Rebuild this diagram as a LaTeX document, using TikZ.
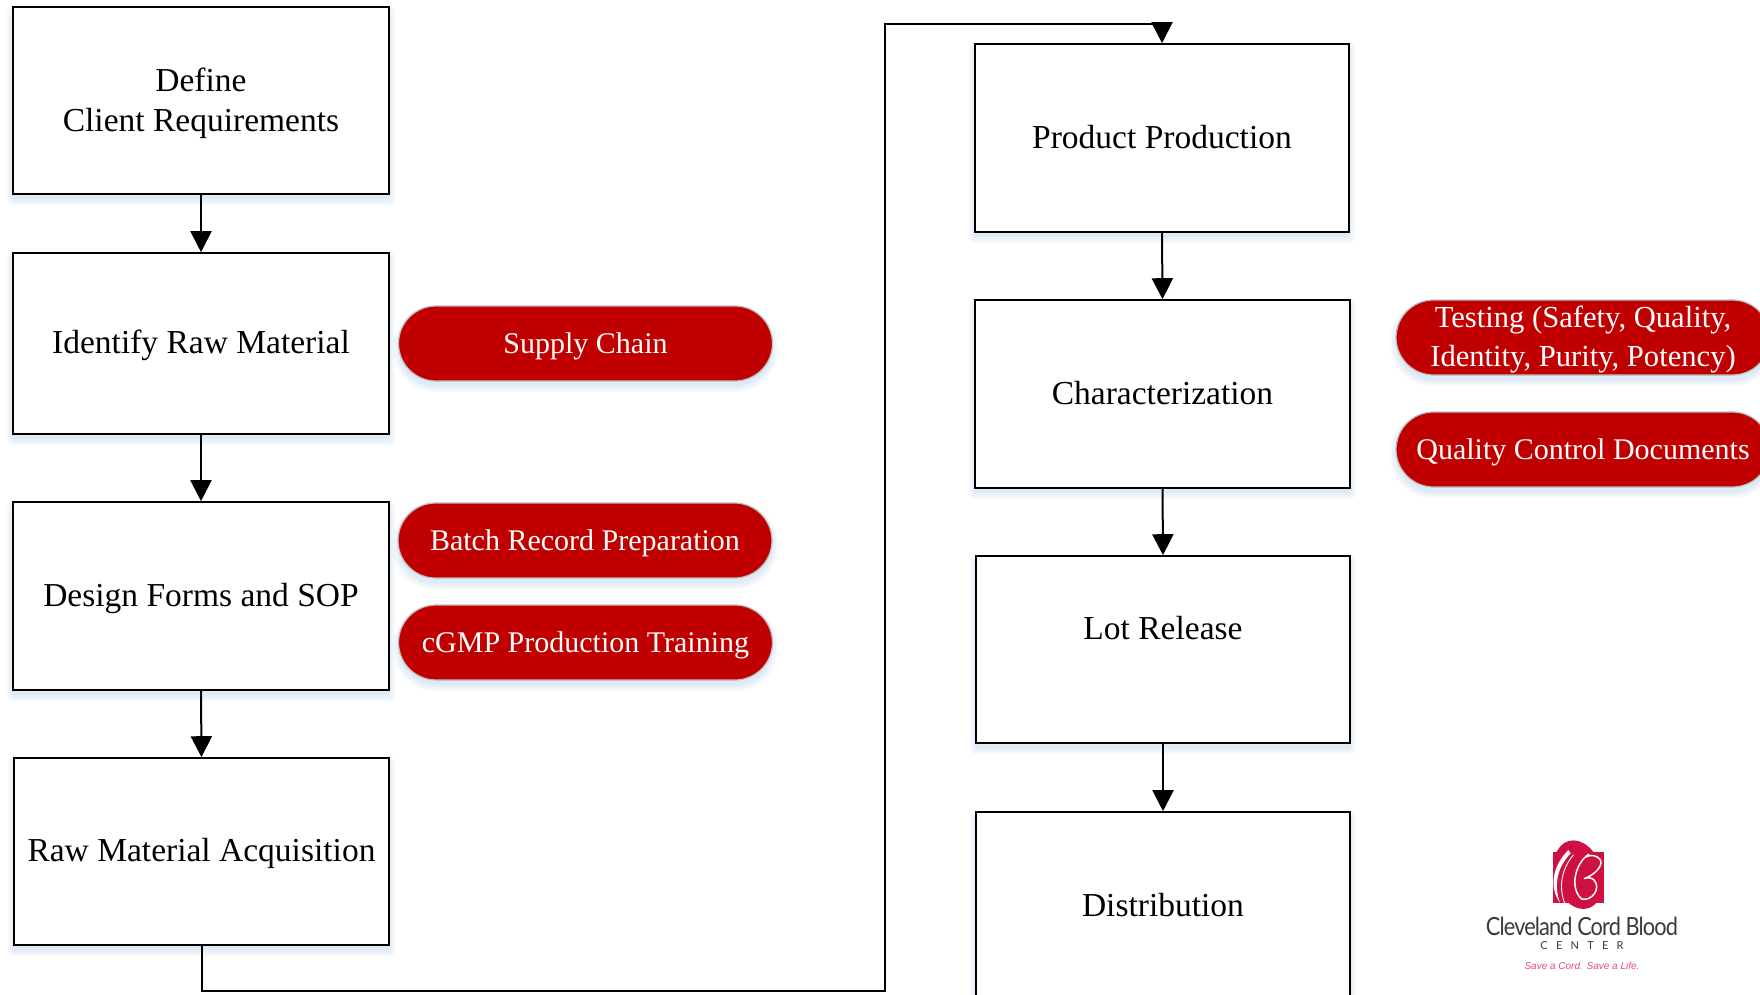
\documentclass[tikz,border=0pt]{standalone}
\usepackage{fontspec}
\setmainfont{Liberation Serif}
\newfontfamily\logofont{Lato}
\newfontfamily\tagfont{Liberation Sans}
\usetikzlibrary{arrows.meta,shapes.misc}
\definecolor{pillred}{HTML}{C00000}
\definecolor{logored}{HTML}{CE1141}
\definecolor{tagpink}{HTML}{E4506F}
\definecolor{logogrey}{HTML}{3A3A3A}
\definecolor{shadowblue}{HTML}{5B9BD5}
\newcommand{\softrect}[5]{%
  \foreach \g in {6,4,2,0}{%
    \fill[shadowblue,opacity=0.05,rounded corners=#5+\g] (#1-\g,#2+5-\g) rectangle (#3+\g,#4+5+\g);
  }%
}
\newcommand{\stack}[2]{\raisebox{-#1}[\dimexpr\height-4pt\relax][\dimexpr\depth-4pt\relax]{\begin{tabular}{@{}c@{}}#2\end{tabular}}}
\tikzset{
  stepbox/.style={draw=black,line width=1.6pt,fill=white,minimum width=#1,inner sep=0pt,
    font=\fontsize{33.5}{40}\selectfont},
  oneline/.style={text height=30pt,text depth=10pt},
  pill/.style={rounded rectangle,draw=black!25,line width=1.2pt,fill=pillred,text=white,
    minimum width=374pt,minimum height=75pt,inner sep=0pt,
    font=\fontsize{30}{38.5}\selectfont},
  pillline/.style={text height=27pt,text depth=8pt},
  flow/.style={draw=black,line width=2pt,-{Triangle[length=21pt,width=21pt]}}
}
\begin{document}
\begin{tikzpicture}[x=1pt,y=-1pt]
\useasboundingbox (0,0) rectangle (1760,995);
\fill[white] (0,0) rectangle (1760,995);
% soft shadows
\softrect{13}{7}{389}{194}{0}
\softrect{13}{253}{389}{434}{0}
\softrect{13}{502}{389}{690}{0}
\softrect{14}{758}{389}{945}{0}
\softrect{975}{44}{1349}{232}{0}
\softrect{975}{300}{1350}{488}{0}
\softrect{976}{556}{1350}{743}{0}
\softrect{976}{812}{1350}{1000}{0}
\softrect{399}{306}{772}{381}{37}
\softrect{398}{503}{772}{578}{37}
\softrect{399}{605}{772}{680}{37}
\softrect{1396}{300}{1770}{375}{37}
\softrect{1396}{412}{1770}{487}{37}
% left column
\node[stepbox=376pt,minimum height=187pt] (define) at (201,100.5) {\stack{3.2pt}{Define\\Client Requirements}};
\node[stepbox=376pt,minimum height=181pt,oneline] (identify) at (201,343.5) {Identify Raw Material};
\node[stepbox=376pt,minimum height=188pt,oneline] (design) at (201,596) {Design Forms and SOP};
\node[stepbox=375pt,minimum height=187pt,oneline] (raw) at (201.5,851.5) {Raw Material Acquisition};
% right column
\node[stepbox=374pt,minimum height=188pt,text height=32pt,text depth=10pt] (product) at (1162,138) {Product Production};
\node[stepbox=375pt,minimum height=188pt,oneline] (char) at (1162.5,394) {Characterization};
\node[stepbox=374pt,minimum height=187pt,text height=19pt,text depth=40pt] (lot) at (1163,649.5) {Lot Release};
\node[stepbox=374pt,minimum height=188pt,oneline] (dist) at (1163,906) {Distribution};
% pills
\node[pill,pillline] (supply) at (585.5,343.5) {Supply Chain};
\node[pill,text height=28pt,text depth=8pt] (batch) at (585,540.5) {Batch Record Preparation};
\node[pill,pillline] (cgmp) at (585.5,642.5) {cGMP Production Training};
\node[pill,font=\fontsize{30.6}{39}\selectfont] (testing) at (1583,337.5) {\stack{1.5pt}{Testing (Safety, Quality,\\Identity, Purity, Potency)}};
\node[pill,pillline] (qc) at (1583,449.5) {Quality Control Documents};
% connectors
\draw[flow] (define.south) -- (identify.north);
\draw[flow] (identify.south) -- (design.north);
\draw[flow] (design.south) -- (raw.north);
\coordinate (loopa) at (885,991);
\coordinate (loopb) at (885,24);
\draw[flow] (raw.south) |- (loopa) -- (loopb) -| (product.north);
\draw[flow] (product.south) -- (char.north);
\draw[flow] (char.south) -- (lot.north);
\draw[flow] (lot.south) -- (dist.north);
% logo
\begin{scope}[shift={(1400,800)},x=0.3333pt,y=-0.3333pt]
  \fill[logored] (460,155) rectangle (613,308);
  \fill[logored,rotate around={16:(535,224)}] (535,224) ellipse [x radius=24pt, y radius=35pt];
  \fill[white] (505,150) .. controls (455,200) and (448,265) .. (480,308)
     .. controls (462,262) and (468,205) .. (512,160) -- cycle;
  \draw[white,line width=0.9pt,line cap=round] (520,165) .. controls (482,210) and (476,265) .. (495,312);
  \draw[white,line width=1.5pt,line cap=round] (566,163) .. controls (525,190) and (508,265) .. (545,297)
     .. controls (575,305) and (605,265) .. (582,240) .. controls (575,232) and (560,232) .. (552,236)
     .. controls (585,225) and (612,195) .. (600,178) .. controls (590,165) and (570,163) .. (555,172);
  \node[inner sep=0pt,text=logogrey,font=\logofont\fontsize{25}{25}\selectfont] (lname) at (546,380) {\scalebox{0.87}[1]{\addfontfeature{LetterSpace=-4}Cleveland Cord Blood}};
  \node[inner sep=0pt,text=logogrey,font=\logofont\fontsize{11}{11}\selectfont] (lcenter) at (546,436) {\addfontfeature{LetterSpace=75}CENTER};
  \node[inner sep=0pt,text=tagpink,font=\tagfont\itshape\fontsize{10}{11}\selectfont] (ltag) at (546,498) {Save a Cord. Save a Life.};
\end{scope}
\end{tikzpicture}
\end{document}
